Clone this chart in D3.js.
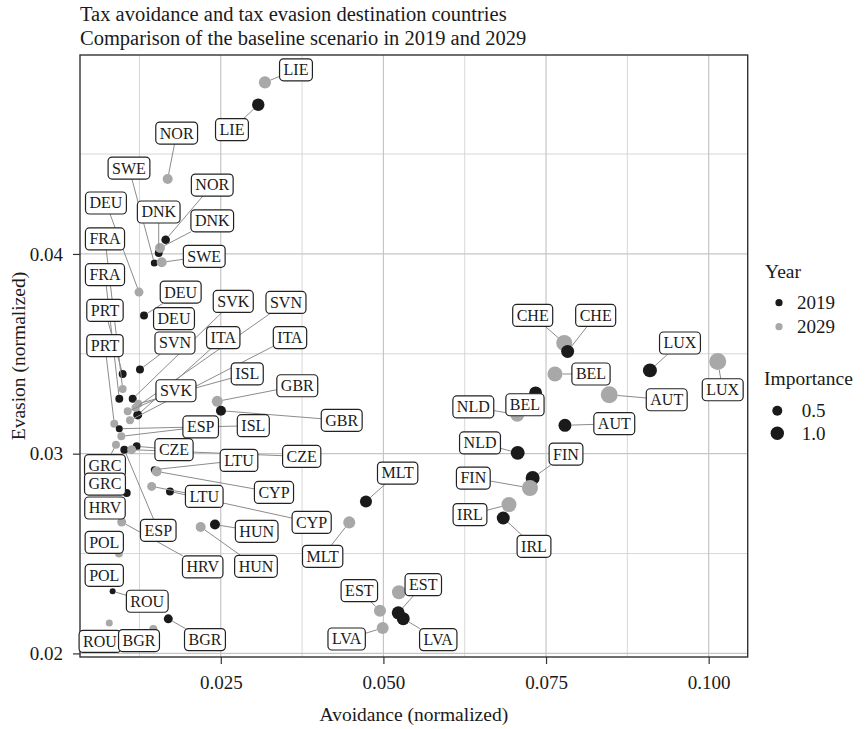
<!DOCTYPE html>
<html>
<head>
<meta charset="utf-8">
<script src="https://cdn.jsdelivr.net/npm/d3@7"></script>
<style>
  body { margin: 0; background: #fff; }
  text { font-family: "Liberation Serif", "DejaVu Serif", serif; fill: #1a1a1a; }
</style>
</head>
<body>
<div id="chart"></div>
<script>
var svgWidth = 867;
var svgHeight = 729;

var margin = { top: 55, right: 119.3, bottom: 72, left: 80 };
var plotWidth = svgWidth - margin.left - margin.right;
var plotHeight = svgHeight - margin.top - margin.bottom;

// Data, one entry per point
var country = ["LIE","LIE","NOR","NOR","SWE","SWE","DNK","DNK","DEU","DEU","DEU",
  "FRA","FRA","PRT","PRT","SVK","SVK","ITA","ITA","SVN","SVN","ISL","ISL","GBR","GBR",
  "ESP","ESP","CZE","CZE","LTU","LTU","CYP","CYP","GRC","GRC","HRV","HRV","POL","POL",
  "ROU","ROU","BGR","BGR","HUN","HUN","MLT","MLT","EST","EST","LVA","LVA","",
  "CHE","CHE","LUX","LUX","BEL","BEL","NLD","NLD","AUT","AUT","FIN","FIN","IRL","IRL"];
var year = [2029,2019,2029,2019,2019,2029,2019,2029,2029,2019,2029,
  2029,2019,2019,2029,2029,2019,2019,2029,2029,2019,2029,2019,2029,2019,
  2029,2019,2019,2029,2019,2029,2029,2019,2029,2019,2019,2029,2029,2019,
  2019,2029,2019,2029,2019,2029,2019,2029,2029,2019,2029,2019,2029,
  2029,2019,2019,2029,2029,2019,2029,2019,2029,2019,2019,2029,2029,2019];
var avoidance = [0.03179,0.03076,0.01684,0.01653,0.01478,0.01592,0.01546,0.01565,0.01243,0.01320,0.01781,
  0.00992,0.00940,0.00992,0.00863,0.01069,0.01146,0.01223,0.01104,0.01189,0.01258,0.01232,0.00940,0.02446,0.02503,
  0.00971,0.01017,0.01207,0.01130,0.01478,0.01438,0.01515,0.01719,0.00889,0.01054,0.00720,0.00977,0.00935,0.00709,
  0.00838,0.00786,0.01693,0.01463,0.02411,0.02191,0.04732,0.04475,0.04947,0.05228,0.04989,0.05305,0.05239,
  0.07780,0.07832,0.09097,0.10139,0.07637,0.07340,0.07058,0.07064,0.08472,0.07791,0.07294,0.07253,0.06930,0.06842];
var evasion = [0.04859,0.04747,0.04375,0.04071,0.03955,0.03958,0.04005,0.04030,0.03809,0.03692,0.03676,
  0.03324,0.03275,0.03399,0.03150,0.03212,0.03275,0.03194,0.03167,0.03230,0.03421,0.03250,0.03125,0.03262,0.03215,
  0.03087,0.03020,0.03037,0.03020,0.02920,0.02836,0.02911,0.02811,0.03045,0.02803,0.02728,0.02658,0.02500,0.02391,
  0.02311,0.02152,0.02173,0.02122,0.02645,0.02633,0.02761,0.02656,0.02214,0.02203,0.02127,0.02174,0.02306,
  0.03554,0.03512,0.03417,0.03462,0.03399,0.03304,0.03195,0.03004,0.03295,0.03142,0.02878,0.02828,0.02745,0.02678];
var importance = [0.80,0.85,0.50,0.34,0.18,0.50,0.27,0.50,0.38,0.27,0.27,
  0.27,0.27,0.27,0.27,0.27,0.27,0.38,0.27,0.27,0.27,0.27,0.18,0.63,0.50,
  0.27,0.27,0.27,0.38,0.18,0.38,0.50,0.27,0.27,0.27,0.27,0.38,0.27,0.27,
  0.10,0.18,0.38,0.27,0.50,0.50,0.78,0.78,0.78,0.93,0.78,0.93,1.10,
  1.48,0.93,1.10,1.69,1.29,0.93,1.10,1.10,1.69,0.93,1.10,1.48,1.29,0.93];
// where the repelled label boxes ended up (data units)
var labelAvoidance = [0.03656,0.02672,0.01822,0.02369,0.01089,0.02246,0.01546,0.02369,0.00735,0.01884,0.01781,
  0.00720,0.00720,0.00720,0.00720,0.01811,0.02692,0.02538,0.03564,0.03502,0.01796,0.02907,0.03000,0.03676,0.04359,
  0.02191,0.01539,0.01781,0.03744,0.02780,0.02246,0.03318,0.03897,0.00720,0.00720,0.00720,0.02222,0.00709,0.00709,
  0.01370,0.00643,0.02257,0.01243,0.03052,0.03041,0.05219,0.04066,0.04630,0.05613,0.04435,0.05843,null,
  0.07295,0.08263,0.09559,0.10216,0.08191,0.07176,0.06382,0.06485,0.09355,0.08549,0.07807,0.06382,0.06331,0.07315];
var labelEvasion = [0.04922,0.04622,0.04605,0.04345,0.04430,0.03988,0.04210,0.04166,0.04255,0.03809,0.03676,
  0.04075,0.03896,0.03717,0.03541,0.03315,0.03762,0.03581,0.03581,0.03757,0.03554,0.03400,0.03140,0.03340,0.03167,
  0.03134,0.02616,0.03020,0.02986,0.02966,0.02786,0.02806,0.02656,0.02940,0.02848,0.02728,0.02433,0.02556,0.02391,
  0.02261,0.02060,0.02069,0.02064,0.02611,0.02436,0.02903,0.02486,0.02314,0.02344,0.02072,0.02069,null,
  0.03692,0.03692,0.03554,0.03320,0.03399,0.03245,0.03234,0.03054,0.03270,0.03150,0.02998,0.02878,0.02695,0.02536];

var xTicks = [0.025, 0.050, 0.075, 0.100];
var xMinor = [0.0125, 0.0375, 0.0625, 0.0875];
var yTicks = [0.02, 0.03, 0.04];
var yMinor = [0.025, 0.035, 0.045];
var years = [2019, 2029];
var sizeBreaks = [0.5, 1.0];

var yearColor = d3.scaleOrdinal().domain(years).range(["#1a1a1a", "#a8a8a8"]);

var rows = country.map(function(c, i) {
  return {
    country: c, year: year[i], avoidance: avoidance[i], evasion: evasion[i],
    importance: importance[i], lx: labelAvoidance[i], ly: labelEvasion[i]
  };
});

var svg = d3.select("#chart")
  .append("svg")
  .attr("width", svgWidth)
  .attr("height", svgHeight);

var plot = svg.append("g")
  .attr("transform", `translate(${margin.left}, ${margin.top})`);

var xScale = d3.scaleLinear().domain([0.00336, 0.1060]).range([0, plotWidth]);
var yScale = d3.scaleLinear().domain([0.01982, 0.04996]).range([plotHeight, 0]);
var rScale = d3.scaleRadial().domain([0.5, 1.0]).range([5, 6.7]);

// grid
plot.append("g").selectAll("line.minx").data(xMinor).enter().append("line")
  .attr("x1", d => xScale(d)).attr("x2", d => xScale(d))
  .attr("y1", 0).attr("y2", plotHeight)
  .attr("stroke", "#d2d2d2").attr("stroke-width", 0.9);
plot.append("g").selectAll("line.miny").data(yMinor).enter().append("line")
  .attr("y1", d => yScale(d)).attr("y2", d => yScale(d))
  .attr("x1", 0).attr("x2", plotWidth)
  .attr("stroke", "#d2d2d2").attr("stroke-width", 0.9);
plot.append("g").selectAll("line.majx").data(xTicks).enter().append("line")
  .attr("x1", d => xScale(d)).attr("x2", d => xScale(d))
  .attr("y1", 0).attr("y2", plotHeight)
  .attr("stroke", "#c6c6c6").attr("stroke-width", 1.2);
plot.append("g").selectAll("line.majy").data(yTicks).enter().append("line")
  .attr("y1", d => yScale(d)).attr("y2", d => yScale(d))
  .attr("x1", 0).attr("x2", plotWidth)
  .attr("stroke", "#c6c6c6").attr("stroke-width", 1.2);

// axes
var bottomAxis = d3.axisBottom(xScale).tickValues(xTicks).tickSize(7).tickPadding(12).tickFormat(d3.format(".3f"));
var leftAxis = d3.axisLeft(yScale).tickValues(yTicks).tickSize(7).tickPadding(10).tickFormat(d3.format(".2f"));

var gx = plot.append("g").attr("transform", `translate(0, ${plotHeight})`).call(bottomAxis);
var gy = plot.append("g").call(leftAxis);
[gx, gy].forEach(function(g) {
  g.select(".domain").remove();
  g.selectAll(".tick line").attr("stroke", "#333").attr("stroke-width", 1.2);
  g.selectAll(".tick text").attr("fill", "#1a1a1a")
    .style("font-family", '"Liberation Serif", serif').style("font-size", "19px");
});

plot.append("rect")
  .attr("width", plotWidth).attr("height", plotHeight)
  .attr("fill", "none").attr("stroke", "#333").attr("stroke-width", 1.4);

// points
plot.append("g").selectAll("circle")
  .data(rows)
  .enter()
  .append("circle")
  .attr("cx", d => xScale(d.avoidance))
  .attr("cy", d => yScale(d.evasion))
  .attr("r", d => rScale(d.importance))
  .attr("fill", d => yearColor(d.year));

// labels with segments
var segLayer = plot.append("g");
var labelLayer = plot.append("g");
var boxH = 22;

rows.forEach(function(d) {
  if (d.lx == null) return;
  var cx = xScale(d.lx), cy = yScale(d.ly);
  var g = labelLayer.append("g").attr("transform", `translate(${cx}, ${cy})`);
  var t = g.append("text")
    .attr("text-anchor", "middle")
    .attr("dy", "0.34em")
    .style("font-size", "16px")
    .text(d.country);
  var w = t.node().getComputedTextLength() + 8;
  g.insert("rect", "text")
    .attr("x", -w / 2).attr("y", -boxH / 2)
    .attr("width", w).attr("height", boxH)
    .attr("rx", 4).attr("ry", 4)
    .attr("fill", "#fff").attr("stroke", "#222").attr("stroke-width", 1.2);

  var px = xScale(d.avoidance), py = yScale(d.evasion), r = rScale(d.importance);
  var dx = px - cx, dy = py - cy;
  var hw = w / 2, hh = boxH / 2;
  if (Math.abs(dx) <= hw && Math.abs(dy) <= hh) return;
  var tt = Math.min(dx !== 0 ? hw / Math.abs(dx) : Infinity, dy !== 0 ? hh / Math.abs(dy) : Infinity);
  var ex = cx + dx * tt, ey = cy + dy * tt;
  var len = Math.hypot(px - ex, py - ey);
  if (len - r < 6) return;
  var ux = (px - ex) / len, uy = (py - ey) / len;
  segLayer.append("line")
    .attr("x1", ex).attr("y1", ey)
    .attr("x2", px - ux * r).attr("y2", py - uy * r)
    .attr("stroke", "#8c8c8c").attr("stroke-width", 1);
});

// titles
svg.append("text").attr("x", 80).attr("y", 21).style("font-size", "20.5px")
  .text("Tax avoidance and tax evasion destination countries");
svg.append("text").attr("x", 80).attr("y", 45).style("font-size", "20.5px")
  .text("Comparison of the baseline scenario in 2019 and 2029");

svg.append("text")
  .attr("x", margin.left + plotWidth / 2).attr("y", 721)
  .attr("text-anchor", "middle").style("font-size", "19.5px")
  .text("Avoidance (normalized)");
svg.append("text")
  .attr("transform", `translate(25, ${margin.top + plotHeight / 2}) rotate(-90)`)
  .attr("text-anchor", "middle").style("font-size", "19.5px")
  .text("Evasion (normalized)");

// legends
var legend = svg.append("g");
legend.append("text").attr("x", 765).attr("y", 278).style("font-size", "19.5px").text("Year");
years.forEach(function(yr, i) {
  legend.append("circle").attr("cx", 779).attr("cy", 302.7 + i * 24).attr("r", 3.6).attr("fill", yearColor(yr));
  legend.append("text").attr("x", 797).attr("y", 302.7 + i * 24).attr("dy", "0.35em")
    .style("font-size", "19px").text(yr);
});
legend.append("text").attr("x", 764).attr("y", 385).style("font-size", "19.5px").text("Importance");
sizeBreaks.forEach(function(s, i) {
  legend.append("circle").attr("cx", 777.3).attr("cy", 410.7 + i * 22.6).attr("r", rScale(s)).attr("fill", "#1a1a1a");
  legend.append("text").attr("x", 801.7).attr("y", 410.7 + i * 22.6).attr("dy", "0.35em")
    .style("font-size", "19px").text(d3.format(".1f")(s));
});
</script>
</body>
</html>
